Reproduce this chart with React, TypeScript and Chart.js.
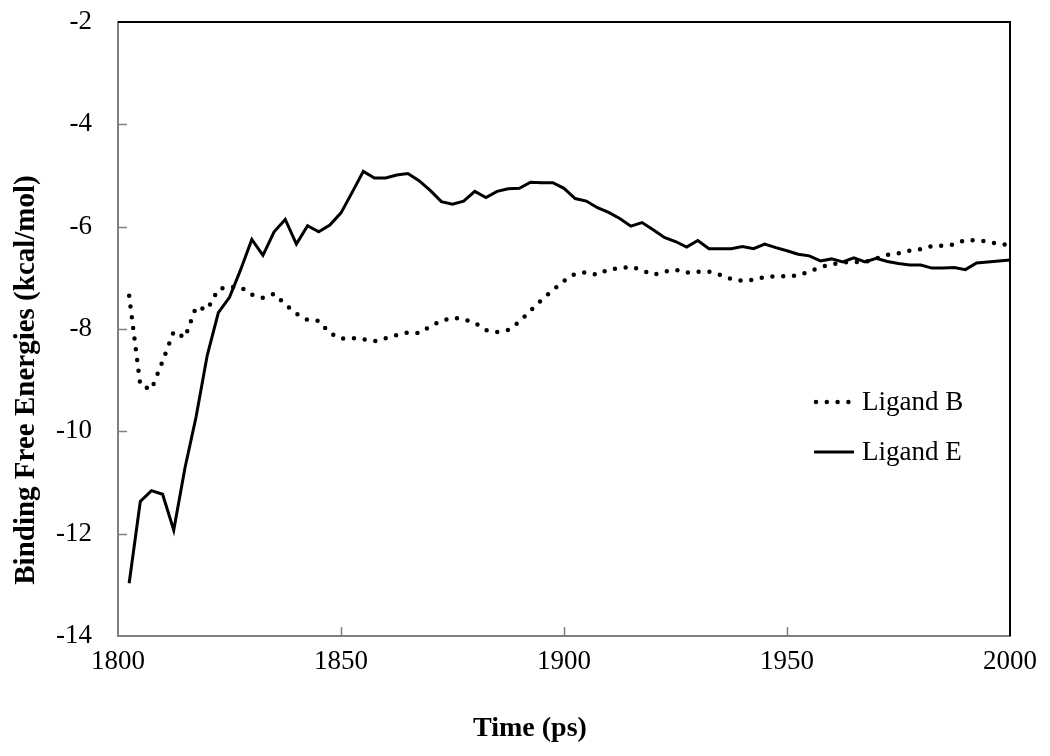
import { useEffect, useRef } from 'react';
import { Chart, registerables } from 'chart.js';

Chart.register(...registerables);

const TIME = [
  1802.5, 1805, 1807.5, 1810, 1812.5, 1815, 1817.5, 1820, 1822.5, 1825,
  1827.5, 1830, 1832.5, 1835, 1837.5, 1840, 1842.5, 1845, 1847.5, 1850,
  1852.5, 1855, 1857.5, 1860, 1862.5, 1865, 1867.5, 1870, 1872.5, 1875,
  1877.5, 1880, 1882.5, 1885, 1887.5, 1890, 1892.5, 1895, 1897.5, 1900,
  1902.5, 1905, 1907.5, 1910, 1912.5, 1915, 1917.5, 1920, 1922.5, 1925,
  1927.5, 1930, 1932.5, 1935, 1937.5, 1940, 1942.5, 1945, 1947.5, 1950,
  1952.5, 1955, 1957.5, 1960, 1962.5, 1965, 1967.5, 1970, 1972.5, 1975,
  1977.5, 1980, 1982.5, 1985, 1987.5, 1990, 1992.5, 1995, 1997.5, 2000,
];

const LIGAND_B = [
  -7.35, -9.1, -9.18, -8.63, -8.05, -8.17, -7.57, -7.62, -7.22, -7.18,
  -7.18, -7.33, -7.39, -7.31, -7.52, -7.7, -7.82, -7.84, -8.08, -8.19,
  -8.18, -8.2, -8.24, -8.18, -8.12, -8.07, -8.08, -7.95, -7.84, -7.78,
  -7.81, -7.88, -8.02, -8.06, -8.02, -7.86, -7.64, -7.43, -7.24, -7.06,
  -6.92, -6.89, -6.94, -6.83, -6.82, -6.78, -6.85, -6.94, -6.88, -6.84,
  -6.9, -6.88, -6.88, -6.94, -7.02, -7.06, -7.04, -6.98, -6.97, -6.97,
  -6.95, -6.88, -6.79, -6.74, -6.7, -6.69, -6.69, -6.62, -6.55, -6.52,
  -6.47, -6.44, -6.38, -6.37, -6.35, -6.26, -6.27, -6.29, -6.34, -6.36,
];

const LIGAND_E = [
  -12.97, -11.37, -11.16, -11.23, -11.93, -10.72, -9.72, -8.52, -7.68, -7.38,
  -6.84, -6.25, -6.56, -6.1, -5.86, -6.34, -5.98, -6.1, -5.97, -5.73,
  -5.33, -4.92, -5.05, -5.05, -4.99, -4.96, -5.1, -5.29, -5.51, -5.56,
  -5.5, -5.31, -5.43, -5.31, -5.26, -5.25, -5.13, -5.14, -5.14, -5.25,
  -5.45, -5.5, -5.63, -5.72, -5.84, -5.99, -5.92, -6.06, -6.21, -6.29,
  -6.4, -6.27, -6.43, -6.43, -6.43, -6.39, -6.43, -6.34, -6.41, -6.47,
  -6.54, -6.57, -6.67, -6.63, -6.69, -6.61, -6.69, -6.62, -6.68, -6.72,
  -6.75, -6.75, -6.81, -6.81, -6.8, -6.84, -6.71, -6.69, -6.67, -6.65,
];

const SERIES_NAMES = ['Ligand B', 'Ligand E'];
const X_TICKS = [1800, 1850, 1900, 1950, 2000];
const Y_TICKS = [-14, -12, -10, -8, -6, -4, -2];
const X_TITLE = 'Time (ps)';
const Y_TITLE = 'Binding Free Energies (kcal/mol)';

const SERIF = '"Liberation Serif", "Times New Roman", serif';
const DOT_DASH = [0, 10.8];

const decorPlugin = {
  id: 'decor',
  afterDraw(chart: any) {
    const { ctx, chartArea: ca } = chart;
    const xs = chart.scales.x;
    const ys = chart.scales.y;
    ctx.save();
    // top & right frame
    ctx.strokeStyle = '#000';
    ctx.lineWidth = 2;
    ctx.beginPath();
    ctx.moveTo(ca.left, ca.top);
    ctx.lineTo(ca.right, ca.top);
    ctx.lineTo(ca.right, ca.bottom);
    ctx.stroke();
    // inside tick marks
    ctx.strokeStyle = '#808080';
    ctx.lineWidth = 1.5;
    ctx.beginPath();
    Y_TICKS.slice(1, -1).forEach((v) => {
      const py = Math.round(ys.getPixelForValue(v)) + 0.5;
      ctx.moveTo(ca.left, py);
      ctx.lineTo(ca.left + 9, py);
    });
    X_TICKS.slice(1, -1).forEach((v) => {
      const px = Math.round(xs.getPixelForValue(v)) + 0.5;
      ctx.moveTo(px, ca.bottom);
      ctx.lineTo(px, ca.bottom - 9);
    });
    ctx.stroke();
    ctx.fillStyle = '#000';
    ctx.textAlign = 'center';
    ctx.textBaseline = 'middle';
    // x title
    ctx.font = 'bold 28px ' + SERIF;
    ctx.fillText(X_TITLE, 530, 729);
    // y title
    ctx.font = 'bold 29px ' + SERIF;
    ctx.translate(27, 380);
    ctx.rotate(-Math.PI / 2);
    ctx.fillText(Y_TITLE, 0, 0);
    ctx.restore();

    // legend
    ctx.save();
    ctx.strokeStyle = '#000';
    ctx.lineCap = 'round';
    ctx.lineWidth = 4.5;
    ctx.setLineDash(DOT_DASH);
    ctx.beginPath();
    ctx.moveTo(816, 402);
    ctx.lineTo(851, 402);
    ctx.stroke();
    ctx.setLineDash([]);
    ctx.lineCap = 'butt';
    ctx.lineWidth = 3;
    ctx.beginPath();
    ctx.moveTo(814, 452);
    ctx.lineTo(854, 452);
    ctx.stroke();
    ctx.fillStyle = '#000';
    ctx.font = '27px ' + SERIF;
    ctx.textAlign = 'left';
    ctx.textBaseline = 'middle';
    ctx.fillText(SERIES_NAMES[0], 862, 403);
    ctx.fillText(SERIES_NAMES[1], 862, 453);
    ctx.restore();
  },
};

export default function App() {
  const ref = useRef<HTMLCanvasElement | null>(null);

  useEffect(() => {
    document.body.style.margin = '0';
    const canvas = ref.current;
    if (!canvas) return;
    const chart = new Chart(canvas, {
      type: 'line',
      data: {
        datasets: [
          {
            label: SERIES_NAMES[0],
            data: TIME.map((t, i) => ({ x: t, y: LIGAND_B[i] })),
            borderColor: '#000',
            borderWidth: 4.5,
            borderDash: DOT_DASH,
            borderCapStyle: 'round',
            pointRadius: 0,
            fill: false,
            tension: 0,
          },
          {
            label: SERIES_NAMES[1],
            data: TIME.map((t, i) => ({ x: t, y: LIGAND_E[i] })),
            borderColor: '#000',
            borderWidth: 3,
            pointRadius: 0,
            fill: false,
            tension: 0,
          },
        ],
      },
      options: {
        responsive: false,
        animation: false,
        devicePixelRatio: 1,
        layout: { padding: { top: 22, right: 40, left: 0, bottom: 0 } },
        plugins: {
          legend: { display: false },
          tooltip: { enabled: false },
        },
        scales: {
          x: {
            type: 'linear',
            min: X_TICKS[0],
            max: X_TICKS[X_TICKS.length - 1],
            afterBuildTicks: (s: any) => {
              s.ticks = X_TICKS.map((v) => ({ value: v }));
            },
            afterFit: (s: any) => {
              s.height = 120;
            },
            grid: { display: false, drawTicks: false },
            border: { display: true, color: '#808080', width: 2 },
            ticks: {
              padding: 10,
              color: '#000',
              font: { family: SERIF, size: 27 },
              callback: (v: any) => String(v),
              maxRotation: 0,
              autoSkip: false,
            },
            title: { display: false },
          },
          y: {
            type: 'linear',
            min: Y_TICKS[0],
            max: Y_TICKS[Y_TICKS.length - 1],
            afterBuildTicks: (s: any) => {
              s.ticks = Y_TICKS.map((v) => ({ value: v }));
            },
            afterFit: (s: any) => {
              s.width = 118;
              s.paddingTop = 14;
              s.paddingBottom = 14;
            },
            grid: { display: false, drawTicks: false },
            border: { display: true, color: '#808080', width: 2 },
            ticks: {
              padding: 26,
              color: '#000',
              font: { family: SERIF, size: 27 },
              callback: (v: any) => String(v),
              autoSkip: false,
            },
          },
        },
      },
      plugins: [decorPlugin],
    } as any);
    return () => chart.destroy();
  }, []);

  return (
    <div style={{ width: 1050, height: 756, background: '#fff' }}>
      <canvas ref={ref} width={1050} height={756} />
    </div>
  );
}
